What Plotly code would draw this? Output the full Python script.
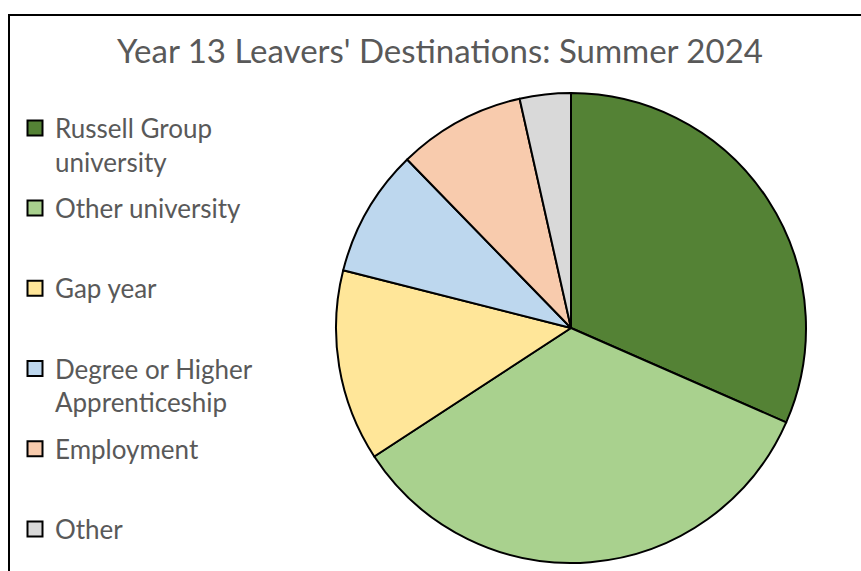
import plotly.graph_objects as go

categories = ["Russell Group university", "Other university", "Gap year",
              "Degree or Higher Apprenticeship", "Employment", "Other"]
legend_labels = ["Russell Group<br>university", "Other university<br> ", "Gap year<br> ",
                 "Degree or Higher<br>Apprenticeship", "Employment<br> ", "Other"]
values = [36, 39, 15, 10, 10, 4]
colors = ["#548235", "#A9D18E", "#FFE699", "#BDD7EE", "#F8CBAD", "#D9D9D9"]

W, H = 861, 571
cx, cy, r = 571, 328, 235

fig = go.Figure()
fig.add_trace(go.Pie(
    labels=categories, values=values, sort=False, direction="clockwise", rotation=0,
    marker=dict(colors=colors, line=dict(color="black", width=2)),
    textinfo="none", showlegend=False,
    domain=dict(x=[(cx - r) / W, (cx + r) / W], y=[(H - cy - r) / H, (H - cy + r) / H]),
))
for i, (lab, col) in enumerate(zip(legend_labels, colors)):
    fig.add_trace(go.Scatter(
        x=[None], y=[None], mode="markers", name=lab, legendgroup=f"g{i}",
        marker=dict(symbol="square", size=15, color=col, line=dict(color="black", width=2)),
    ))

fig.update_layout(
    width=W, height=H, margin=dict(l=0, r=0, t=0, b=0, autoexpand=False),
    paper_bgcolor="white", plot_bgcolor="white",
    xaxis=dict(visible=False), yaxis=dict(visible=False),
    font=dict(family="Lato, Open Sans, sans-serif", color="#595959"),
    title=dict(text="Year 13 Leavers' Destinations: Summer 2024", x=440 / W, xanchor="center",
               y=1 - 51 / H, yanchor="middle", font=dict(size=33, color="#595959")),
    legend=dict(x=15 / W, xanchor="left", y=1 - 104.5 / H, yanchor="top",
                font=dict(size=26, color="#595959"), valign="top",
                tracegroupgap=9.6, bgcolor="rgba(0,0,0,0)", itemclick=False),
    shapes=[dict(type="rect", xref="paper", yref="paper", x0=9 / W, x1=1.2, y0=-0.2, y1=1 - 15 / H,
                 line=dict(color="black", width=2), layer="above")],
)
fig.write_html("out.html")
